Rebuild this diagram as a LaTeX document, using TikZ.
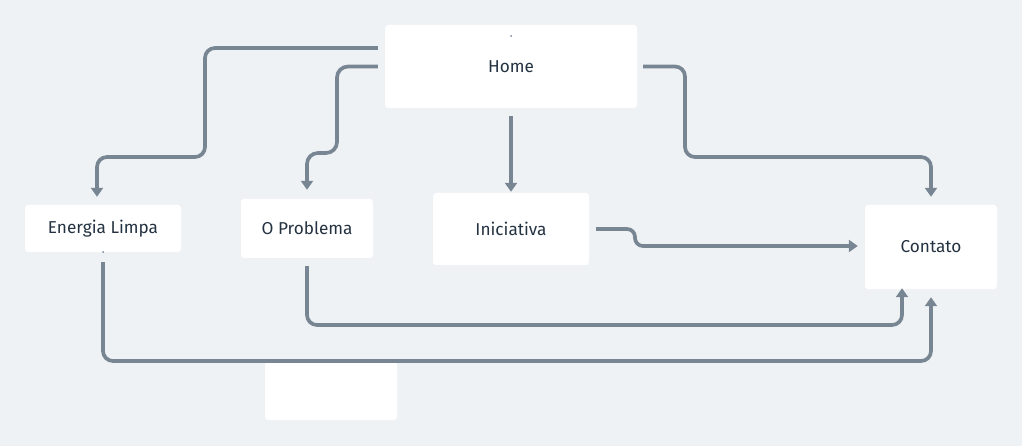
\documentclass[tikz,border=0pt]{standalone}
\usepackage{fontspec}
\setmainfont{Fira Sans}
\usetikzlibrary{arrows.meta,calc}
\definecolor{bgc}{HTML}{EFF2F5}
\definecolor{linec}{HTML}{788694}
\definecolor{textc}{HTML}{243241}
\tikzset{
  box/.style={fill=white, rounded corners=3pt, inner sep=0pt, font=\fontsize{17.2}{20}\selectfont, text=textc},
  conn/.style={draw=linec, line width=3.7pt, rounded corners=10pt, -{Triangle[width=12pt,length=9pt]}},
  tinydot/.style={fill=linec, circle, inner sep=0pt, minimum size=2pt}
}
\begin{document}
\begin{tikzpicture}[x=1pt,y=-1pt]
\fill[bgc] (0,0) rectangle (1022,446);
\useasboundingbox (0,0) rectangle (1022,446);
\node[box, minimum width=252pt, minimum height=83pt] (home) at (511,66.5) {Home};
\node[box, minimum width=156pt, minimum height=47pt] (energia) at (103,228.5) {Energia Limpa};
\node[box, minimum width=132pt, minimum height=59pt] (problema) at (307,228.5) {O Problema};
\node[box, minimum width=156pt, minimum height=72pt] (iniciativa) at (511,229) {Iniciativa};
\node[box, minimum width=132pt, minimum height=84pt] (contato) at (931,247) {};
\node[font=\fontsize{17.2}{20}\selectfont, text=textc] (contatolabel) at (931,247) {Contato};
\node[box, minimum width=132pt, minimum height=58pt] (empty) at (331,391) {};
\node[tinydot] (d1) at (511,36) {};
\node[tinydot] (d2) at (103,252) {};
% connectors
\draw[conn] ([xshift=-7pt,yshift=18.5pt]home.west) -- (205,48) -- (205,157) -- (97,157) -- ([xshift=-6pt,yshift=8pt]energia.north);
\draw[conn, rounded corners=11pt] ([xshift=-7pt]home.west) -- (337,66.5) -- (337,153) -- (307,153) -- ([yshift=9pt]problema.north);
\draw[conn] ([yshift=-8pt]home.south) -- ([yshift=1pt]iniciativa.north);
\draw[conn] ([xshift=6pt]home.east) -- (685,66.5) -- (685,157) -- (931,157) -- ([yshift=8pt]contato.north);
\draw[conn, rounded corners=8pt] ([xshift=7pt]iniciativa.east) -- (635,229) -- (635,246) -- ([xshift=-7pt,yshift=1pt]contato.west);
\draw[conn] ([yshift=-8pt]problema.south) -- (307,325) -- (902,325) -- ([xshift=-29pt,yshift=1pt]contato.south);
\draw[conn] ([yshift=-10pt]energia.south) -- (103,361) -- (931,361) -- ([yshift=-8pt]contato.south);
\end{tikzpicture}
\end{document}
